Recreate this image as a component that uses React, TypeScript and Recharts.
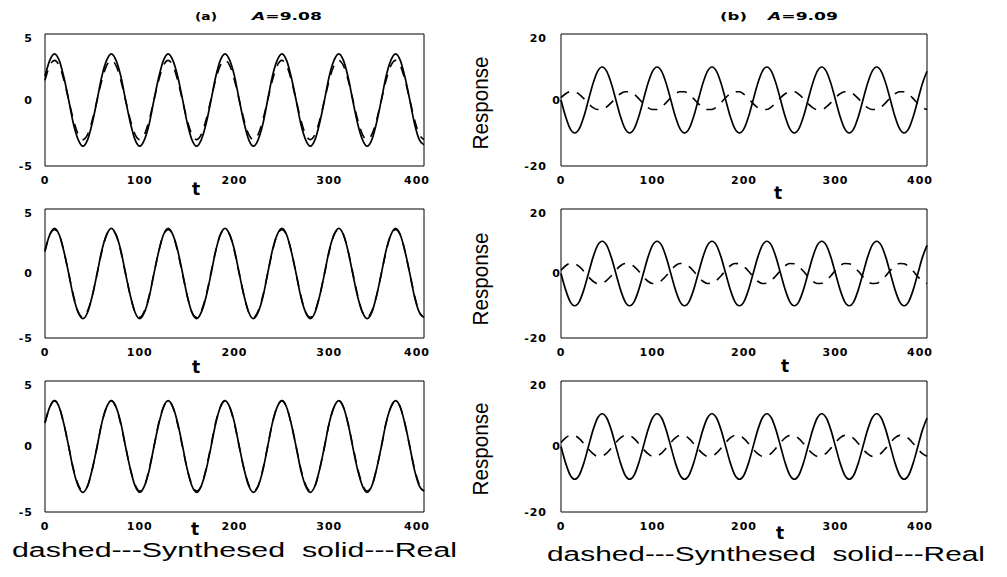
import { LineChart, Line, XAxis, YAxis } from "recharts";

// time axis, read every 5 units
const T = [
  0, 5, 10, 15, 20, 25, 30, 35, 40, 45, 50, 55, 60, 65, 70, 75, 80, 85, 90, 95,
  100, 105, 110, 115, 120, 125, 130, 135, 140, 145, 150, 155, 160, 165, 170, 175,
  180, 185, 190, 195, 200, 205, 210, 215, 220, 225, 230, 235, 240, 245, 250, 255,
  260, 265, 270, 275, 280, 285, 290, 295, 300, 305, 310, 315, 320, 325, 330, 335,
  340, 345, 350, 355, 360, 365, 370, 375, 380, 385, 390, 395, 400,
];

const X_TICKS = [0, 100, 200, 300, 400];
const LEFT_TICKS = [-5, 0, 5];
const RIGHT_TICKS = [-20, 0, 20];

// (a) column
const leftReal = [
  1.8, 3.0, 3.5, 3.0, 1.7, 0.0, -1.8, -3.0, -3.5, -3.0, -1.7, 0.0,
  1.8, 3.0, 3.5, 3.0, 1.8, 0.0, -1.7, -3.0, -3.5, -3.0, -1.8, 0.0,
  1.7, 3.0, 3.5, 3.0, 1.8, 0.1, -1.7, -3.0, -3.5, -3.0, -1.8, -0.1,
  1.7, 3.0, 3.5, 3.0, 1.8, 0.0, -1.7, -3.0, -3.5, -3.0, -1.8, 0.0,
  1.8, 3.0, 3.5, 3.0, 1.7, 0.0, -1.8, -3.0, -3.5, -3.0, -1.7, 0.0,
  1.8, 3.0, 3.5, 3.0, 1.7, -0.1, -1.8, -3.0, -3.5, -3.0, -1.7, 0.0,
  1.8, 3.0, 3.5, 3.0, 1.7, 0.0, -1.8, -3.0, -3.4,
];
const leftSynth1 = [
  1.5, 2.6, 3.0, 2.6, 1.5, 0.0, -1.5, -2.6, -3.0, -2.6, -1.5, 0.0,
  1.5, 2.6, 3.0, 2.6, 1.5, 0.0, -1.5, -2.6, -3.0, -2.6, -1.5, 0.0,
  1.5, 2.6, 3.0, 2.6, 1.5, 0.0, -1.5, -2.6, -3.0, -2.6, -1.5, 0.0,
  1.5, 2.6, 3.0, 2.6, 1.5, 0.0, -1.5, -2.6, -3.0, -2.6, -1.5, 0.0,
  1.5, 2.6, 3.0, 2.6, 1.5, 0.0, -1.5, -2.6, -3.0, -2.6, -1.5, 0.0,
  1.5, 2.6, 3.0, 2.6, 1.5, 0.0, -1.5, -2.6, -3.0, -2.6, -1.5, 0.0,
  1.5, 2.6, 3.0, 2.6, 1.5, 0.0, -1.5, -2.6, -3.0,
];
const leftSynth2 = [
  1.7, 3.0, 3.4, 3.0, 1.7, 0.0, -1.7, -3.0, -3.4, -2.9, -1.7, 0.0,
  1.7, 3.0, 3.4, 3.0, 1.7, 0.0, -1.7, -3.0, -3.4, -2.9, -1.7, 0.0,
  1.7, 3.0, 3.4, 3.0, 1.7, 0.0, -1.7, -3.0, -3.4, -2.9, -1.7, 0.0,
  1.7, 3.0, 3.4, 3.0, 1.7, 0.0, -1.7, -3.0, -3.4, -2.9, -1.7, 0.0,
  1.7, 3.0, 3.4, 3.0, 1.7, 0.0, -1.7, -3.0, -3.4, -2.9, -1.7, 0.0,
  1.7, 3.0, 3.4, 3.0, 1.7, 0.0, -1.7, -3.0, -3.4, -2.9, -1.7, 0.0,
  1.7, 3.0, 3.4, 3.0, 1.7, 0.0, -1.7, -3.0, -3.4,
];
const leftSynth3 = [
  1.8, 3.0, 3.5, 3.0, 1.7, 0.0, -1.7, -2.9, -3.4, -3.0, -1.7, 0.0,
  1.8, 3.0, 3.5, 3.0, 1.7, 0.0, -1.7, -2.9, -3.4, -3.0, -1.7, 0.0,
  1.8, 3.0, 3.5, 3.0, 1.7, 0.0, -1.7, -2.9, -3.4, -3.0, -1.7, 0.0,
  1.8, 3.0, 3.5, 3.0, 1.7, 0.0, -1.7, -2.9, -3.4, -3.0, -1.7, 0.0,
  1.8, 3.0, 3.5, 3.0, 1.7, 0.0, -1.7, -2.9, -3.4, -3.0, -1.7, 0.0,
  1.8, 3.0, 3.5, 3.0, 1.7, 0.0, -1.7, -2.9, -3.4, -3.0, -1.7, 0.0,
  1.8, 3.0, 3.5, 3.0, 1.7, 0.0, -1.7, -2.9, -3.4,
];

// (b) column
const rightReal = [
  0, -5, -8.7, -10, -8.7, -5, 0, 5, 8.7, 10, 8.7, 5,
  0, -5, -8.7, -10, -8.7, -5, 0, 5, 8.7, 10, 8.7, 5,
  0, -5, -8.7, -10, -8.7, -5, 0, 5, 8.7, 10, 8.7, 5,
  0, -5, -8.7, -10, -8.7, -5, 0, 5, 8.7, 10, 8.7, 5,
  0, -5, -8.7, -10, -8.7, -5, 0, 5, 8.7, 10, 8.7, 5,
  0, -5, -8.7, -10, -8.7, -5, 0, 5, 8.7, 10, 8.7, 5,
  0, -5, -8.7, -10, -8.7, -5, 0, 5, 8.7,
];
const rightSynth1 = [
  0.7, 1.9, 2.5, 2.5, 1.7, 0.4, -1.1, -2.3, -2.9, -2.9, -2.1, -0.8,
  0.7, 1.9, 2.5, 2.5, 1.7, 0.4, -1.1, -2.3, -2.9, -2.9, -2.1, -0.8,
  0.7, 1.9, 2.5, 2.5, 1.7, 0.4, -1.1, -2.3, -2.9, -2.9, -2.1, -0.8,
  0.7, 1.9, 2.5, 2.5, 1.7, 0.4, -1.1, -2.3, -2.9, -2.9, -2.1, -0.8,
  0.7, 1.9, 2.5, 2.5, 1.7, 0.4, -1.1, -2.3, -2.9, -2.9, -2.1, -0.8,
  0.7, 1.9, 2.5, 2.5, 1.7, 0.4, -1.1, -2.3, -2.9, -2.9, -2.1, -0.8,
  0.7, 1.9, 2.5, 2.5, 1.7, 0.4, -1.1, -2.3, -2.9,
];
const rightSynth2 = [
  1.0, 2.4, 3.1, 3.0, 2.1, 0.7, -1.0, -2.4, -3.1, -3.0, -2.1, -0.7,
  1.0, 2.4, 3.1, 3.0, 2.1, 0.7, -1.0, -2.4, -3.1, -3.0, -2.1, -0.7,
  1.0, 2.4, 3.1, 3.0, 2.1, 0.7, -1.0, -2.4, -3.1, -3.0, -2.1, -0.7,
  1.0, 2.4, 3.1, 3.0, 2.1, 0.7, -1.0, -2.4, -3.1, -3.0, -2.1, -0.7,
  1.0, 2.4, 3.1, 3.0, 2.1, 0.7, -1.0, -2.4, -3.1, -3.0, -2.1, -0.7,
  1.0, 2.4, 3.1, 3.0, 2.1, 0.7, -1.0, -2.4, -3.1, -3.0, -2.1, -0.7,
  1.0, 2.4, 3.1, 3.0, 2.1, 0.7, -1.0, -2.4, -3.1,
];
const rightSynth3 = [
  1.2, 2.6, 3.4, 3.3, 2.4, 0.9, -0.8, -2.2, -3.0, -2.9, -2.0, -0.5,
  1.2, 2.6, 3.4, 3.3, 2.4, 0.9, -0.8, -2.2, -3.0, -2.9, -2.0, -0.5,
  1.2, 2.6, 3.4, 3.3, 2.4, 0.9, -0.8, -2.2, -3.0, -2.9, -2.0, -0.5,
  1.2, 2.6, 3.4, 3.3, 2.4, 0.9, -0.8, -2.2, -3.0, -2.9, -2.0, -0.5,
  1.2, 2.6, 3.4, 3.3, 2.4, 0.9, -0.8, -2.2, -3.0, -2.9, -2.0, -0.5,
  1.2, 2.6, 3.4, 3.3, 2.4, 0.9, -0.8, -2.2, -3.0, -2.9, -2.0, -0.5,
  1.2, 2.6, 3.4, 3.3, 2.4, 0.9, -0.8, -2.2, -3.0,
];

const TICK_FONT = "'DejaVu Sans', sans-serif";
const TEXT_FONT = "'Liberation Sans', Arial, sans-serif";
const YW = 40; // y axis width
const MT = 5;
const MR = 5;
const XH = 30;

type Panel = {
  left: number;
  top: number;
  w: number;
  h: number;
  domain: [number, number];
  ticks: number[];
  real: number[];
  synth: number[];
  gap: number;
  zeroShift: number;
};

const panels: Panel[] = [
  { left: 45, top: 34, w: 379, h: 132, domain: [-5, 5], ticks: LEFT_TICKS, real: leftReal, synth: leftSynth1, gap: 6, zeroShift: 0 },
  { left: 45, top: 209, w: 379, h: 129, domain: [-5, 5], ticks: LEFT_TICKS, real: leftReal, synth: leftSynth2, gap: 6, zeroShift: 0 },
  { left: 45, top: 381, w: 379, h: 131, domain: [-5, 5], ticks: LEFT_TICKS, real: leftReal, synth: leftSynth3, gap: 6, zeroShift: 0 },
  { left: 561, top: 34, w: 366, h: 132, domain: [-20, 20], ticks: RIGHT_TICKS, real: rightReal, synth: rightSynth1, gap: 8, zeroShift: 14 },
  { left: 561, top: 209, w: 366, h: 129, domain: [-20, 20], ticks: RIGHT_TICKS, real: rightReal, synth: rightSynth2, gap: 8, zeroShift: 14 },
  { left: 561, top: 381, w: 366, h: 131, domain: [-20, 20], ticks: RIGHT_TICKS, real: rightReal, synth: rightSynth3, gap: 8, zeroShift: 14 },
];

function XTick({ x, y, payload }: any) {
  return (
    <text x={x} y={y} dy="0.71em" textAnchor="middle" fontFamily={TICK_FONT} fontSize={11} fontWeight="bold" letterSpacing={1} fill="#000">
      {payload.value}
    </text>
  );
}

function makeYTick(zeroShift: number) {
  return function YTick({ x, y, payload }: any) {
    const dx = payload.value === 0 ? zeroShift : 0;
    return (
      <text x={x + dx} y={y} dy="0.36em" textAnchor="end" fontFamily={TICK_FONT} fontSize={11} fontWeight="bold" letterSpacing={1} fill="#000">
        {payload.value}
      </text>
    );
  };
}

function PanelChart({ p }: { p: Panel }) {
  const data = T.map((t, i) => ({ t, real: p.real[i], synth: p.synth[i] }));
  const YTick = makeYTick(p.zeroShift);
  return (
    <div style={{ position: "absolute", left: p.left - YW, top: p.top - MT }}>
      <LineChart width={YW + p.w + MR} height={MT + p.h + XH} data={data} margin={{ top: MT, right: MR, bottom: 0, left: 0 }}>
        <XAxis
          dataKey="t"
          type="number"
          domain={[0, 400]}
          ticks={X_TICKS}
          height={XH}
          axisLine={{ stroke: "#000" }}
          tickLine={false}
          tickSize={6}
          tickMargin={4}
          tick={<XTick />}
        />
        <XAxis
          xAxisId="top"
          orientation="top"
          dataKey="t"
          type="number"
          domain={[0, 400]}
          ticks={X_TICKS}
          mirror
          tick={false}
          tickSize={4}
          axisLine={{ stroke: "#000" }}
          tickLine={{ stroke: "#000" }}
        />
        <YAxis
          type="number"
          domain={p.domain}
          ticks={p.ticks}
          width={YW}
          axisLine={{ stroke: "#000" }}
          tickLine={false}
          tickSize={6}
          tickMargin={p.gap}
          tick={<YTick />}
        />
        <YAxis
          yAxisId="right"
          orientation="right"
          type="number"
          domain={p.domain}
          ticks={p.ticks}
          mirror
          tick={false}
          tickSize={3}
          axisLine={{ stroke: "#000" }}
          tickLine={{ stroke: "#000" }}
        />
        <Line
          type="monotone"
          dataKey="synth"
          stroke="#000"
          strokeWidth={1.6}
          strokeDasharray="10 8"
          dot={false}
          isAnimationActive={false}
        />
        <Line
          type="monotone"
          dataKey="real"
          stroke="#000"
          strokeWidth={1.7}
          dot={false}
          isAnimationActive={false}
        />
      </LineChart>
    </div>
  );
}

const tLabels = [
  { x: 196, y: 195 },
  { x: 196, y: 373 },
  { x: 195, y: 535 },
  { x: 778, y: 199 },
  { x: 785, y: 372 },
  { x: 780, y: 539 },
];
const responseCenters = [103, 279, 449];

export default function App() {
  return (
    <div style={{ position: "absolute", left: 0, top: 0, width: 1007, height: 577, background: "#fff", overflow: "hidden" }}>
      {panels.map((p, i) => (
        <PanelChart key={i} p={p} />
      ))}
      <svg width={1007} height={577} style={{ position: "absolute", left: 0, top: 0, pointerEvents: "none" }}>
        <g fontFamily={TICK_FONT} fontWeight="bold" fontSize={11} fill="#000">
          <text x={195} y={20} textLength={22} lengthAdjust="spacingAndGlyphs">(a)</text>
          <text x={252} y={20} textLength={70} lengthAdjust="spacingAndGlyphs">
            <tspan fontStyle="italic">A</tspan>=9.08
          </text>
          <text x={720} y={20} textLength={27} lengthAdjust="spacingAndGlyphs">(b)</text>
          <text x={768} y={20} textLength={70} lengthAdjust="spacingAndGlyphs">
            <tspan fontStyle="italic">A</tspan>=9.09
          </text>
        </g>
        {tLabels.map((l, i) => (
          <text key={i} x={l.x} y={l.y} textAnchor="middle" fontFamily={TICK_FONT} fontWeight="bold" fontSize={17} fill="#000">
            t
          </text>
        ))}
        {responseCenters.map((cy, i) => (
          <text
            key={i}
            transform={`translate(488,${cy}) rotate(-90)`}
            textAnchor="middle"
            fontFamily={TEXT_FONT}
            fontSize={22}
            textLength={93}
            lengthAdjust="spacingAndGlyphs"
            fill="#000"
          >
            Response
          </text>
        ))}
        <text x={12} y={557} fontFamily={TEXT_FONT} fontSize={20} textLength={445} lengthAdjust="spacingAndGlyphs" fill="#000" style={{ whiteSpace: "pre" }}>
          {"dashed---Synthesed  solid---Real"}
        </text>
        <text x={547} y={561} fontFamily={TEXT_FONT} fontSize={20} textLength={438} lengthAdjust="spacingAndGlyphs" fill="#000" style={{ whiteSpace: "pre" }}>
          {"dashed---Synthesed  solid---Real"}
        </text>
      </svg>
    </div>
  );
}
